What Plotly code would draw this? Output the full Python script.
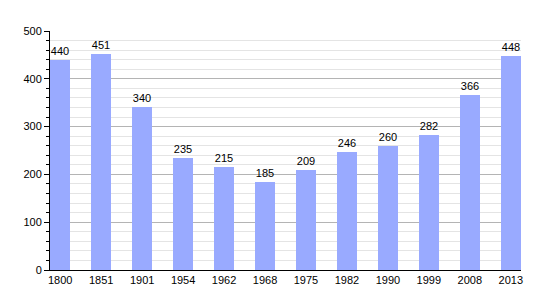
import plotly.graph_objects as go

years = ["1800", "1851", "1901", "1954", "1962", "1968", "1975", "1982", "1990", "1999", "2008", "2013"]
population = [440, 451, 340, 235, 215, 185, 209, 246, 260, 282, 366, 448]

fig = go.Figure()
fig.add_trace(go.Bar(
    x=years, y=population,
    width=0.5,
    marker=dict(color="#99aaff", line=dict(width=0)),
    text=[str(v) for v in population],
    textposition="outside",
    textfont=dict(family="Liberation Sans, Arial", size=11, color="black"),
    cliponaxis=False,
))

fig.update_layout(
    width=550, height=300,
    margin=dict(l=50, r=29, t=31, b=30),
    paper_bgcolor="white", plot_bgcolor="white",
    showlegend=False,
    font=dict(family="Liberation Sans, Arial", size=11, color="black"),
    bargap=0,
)
fig.update_xaxes(
    type="category", range=[-0.25, 11.25],
    showline=True, linecolor="black", linewidth=1,
    showgrid=False, ticks="", tickfont=dict(size=11),
)
fig.update_yaxes(
    range=[0, 500], tick0=0, dtick=100,
    showline=True, linecolor="black", linewidth=1,
    showgrid=True, gridcolor="#b4b4b4", gridwidth=1,
    ticks="outside", ticklen=5, tickcolor="black",
    tickfont=dict(size=11),
    minor=dict(dtick=20, showgrid=True, gridcolor="#e4e4e4", ticks="outside", ticklen=3, tickcolor="black"),
    zeroline=False,
)

fig.write_html("out.html")
